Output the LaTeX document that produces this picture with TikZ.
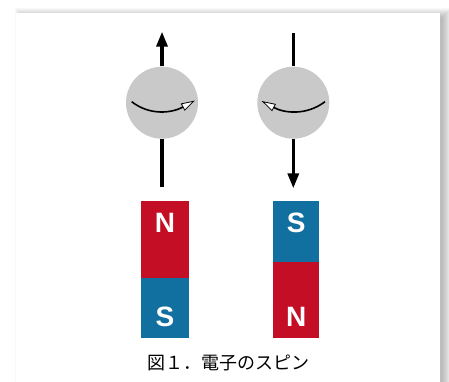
\documentclass[tikz,border=0pt]{standalone}
\usepackage{fontspec}
\setsansfont{Liberation Sans}
\newfontfamily\jpfont{Noto Sans CJK JP}
\usetikzlibrary{arrows.meta, positioning}

\definecolor{magred}{RGB}{196,14,38}
\definecolor{magblue}{RGB}{18,112,160}
\definecolor{ballgray}{RGB}{200,201,200}

\tikzset{
  spinball/.style={circle, fill=ballgray, minimum size=72pt, inner sep=0pt},
  axisline/.style={line width=3.3pt},
  spinaxis/.style={axisline, -{Triangle[length=15pt, width=11pt]}},
  spinturn/.style={line width=1.6pt, -{Triangle[fill=white, length=14pt, width=8pt, line width=0.8pt]}},
  pole/.style={rectangle, inner sep=0pt, minimum width=#1},
  poleletter/.style={text=white, font=\sffamily\bfseries\fontsize{28}{28}\selectfont, inner sep=0pt},
  caption/.style={text=black, font=\jpfont\fontsize{18}{18}\selectfont, inner sep=0pt}
}

\begin{document}
\begin{tikzpicture}[x=1pt, y=-1pt]
  \useasboundingbox (0,0) rectangle (449,382);
  \fill[white] (0,0) rectangle (449,382);

  % soft shadow under the sheet
  \foreach \i in {1,...,10}
    \fill[black, opacity=.028] (25-\i,18-\i) rectangle (442+\i,382);
  \fill[white] (16,13) rectangle (440,382);

  % ---- spin up ----
  \node[spinball] (ballL) at (162,102.7) {};
  \coordinate (tipL) at (162,31.7);
  \coordinate (tailL) at (162,187);
  \draw[spinaxis] (ballL.north) -- (tipL);
  \draw[axisline] (tailL) -- (ballL.south);
  \coordinate (turnLa) at (131.7,101.7);
  \coordinate (turnLb) at (195,100.5);
  \draw[spinturn] (turnLa) .. controls (150,116) and (172,113) .. (turnLb);

  % ---- spin down ----
  \node[spinball] (ballR) at (293.3,102.7) {};
  \coordinate (topR) at (293.3,33.3);
  \coordinate (tipR) at (293.3,188.3);
  \draw[axisline] (topR) -- (ballR.north);
  \draw[spinaxis] (ballR.south) -- (tipR);
  \coordinate (turnRa) at (325,101.7);
  \coordinate (turnRb) at (261.7,101);
  \draw[spinturn] (turnRa) .. controls (306,116) and (284,113) .. (turnRb);

  % ---- magnets ----
  \node[pole=48pt, fill=magred, minimum height=76.3pt, anchor=north] (poleNL) at (165,201) {};
  \node[pole=48pt, fill=magblue, minimum height=60.4pt, below=0pt of poleNL] (poleSL) {};
  \node[poleletter] (letNL) at (165,223.3) {N};
  \node[poleletter] (letSL) at (165,316.7) {S};

  \node[pole=45.7pt, fill=magblue, minimum height=60.7pt, anchor=north] (poleSR) at (296.2,201) {};
  \node[pole=45.7pt, fill=magred, minimum height=76pt, below=0pt of poleSR] (poleNR) {};
  \node[poleletter] (letSR) at (296.2,223.3) {S};
  \node[poleletter] (letNR) at (296.2,316.7) {N};

  \node[caption] (cap) at (228.3,363.3) {図１．電子のスピン};
\end{tikzpicture}
\end{document}
